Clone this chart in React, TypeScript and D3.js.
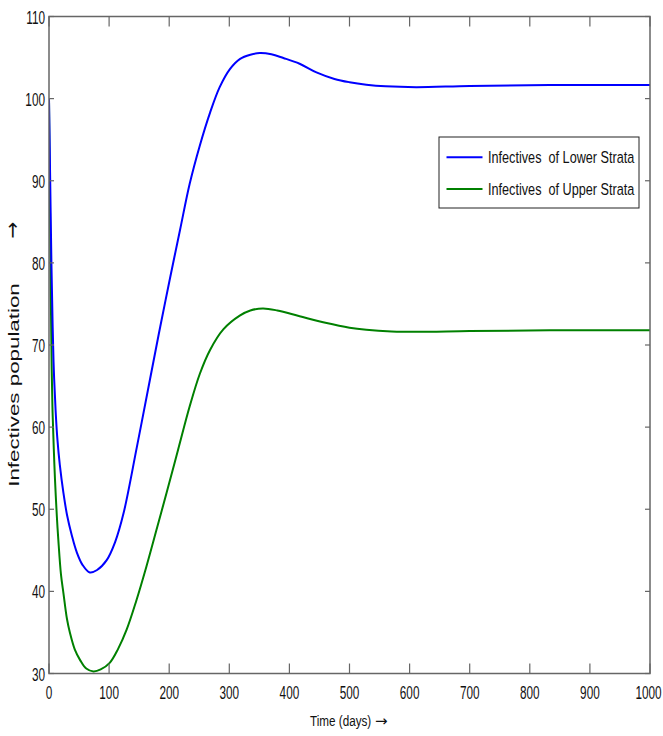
import React from "react";
import * as d3 from "d3";

const W = 663;
const H = 736;

const lowerT = [0, 2, 4, 6, 8, 11, 14, 18, 24, 30, 38, 46, 56, 68, 80, 96, 110, 124, 146, 168, 185, 201, 218, 234, 251, 268, 284, 301, 318, 335, 351, 370, 390, 417, 445, 475, 500, 528, 560, 611, 700, 833, 1000];
const lowerV = [100, 90, 80, 72.5, 67, 62, 58.5, 55.4, 52, 49.3, 46.8, 44.8, 43.2, 42.3, 42.6, 43.8, 46.0, 49.5, 57.5, 65.8, 72.2, 78.0, 84.0, 89.6, 94.3, 98.3, 101.4, 103.6, 104.85, 105.35, 105.55, 105.4, 104.95, 104.25, 103.2, 102.4, 102.0, 101.7, 101.5, 101.4, 101.55, 101.65, 101.65];

const upperT = [0, 1.5, 3, 4.5, 6, 8, 10, 13, 15.5, 20, 24, 30, 35, 43, 52, 62, 74, 86, 101, 115, 129, 145, 162, 180, 196, 215, 234, 251, 268, 290, 318, 335, 356, 380, 417, 460, 500, 528, 570, 611, 700, 833, 1000];
const upperV = [100, 88, 76, 67, 61.7, 57.3, 53.6, 49.2, 46.3, 42, 39.8, 36.6, 34.9, 32.9, 31.6, 30.6, 30.25, 30.5, 31.3, 33, 35.3, 38.8, 43, 47.8, 52.1, 57.3, 62.5, 66.5, 69.4, 71.9, 73.6, 74.2, 74.45, 74.2, 73.5, 72.7, 72.1, 71.85, 71.65, 71.6, 71.7, 71.8, 71.8];

const xTicks = [0, 100, 200, 300, 400, 500, 600, 700, 800, 900, 1000];
const yTicks = [30, 40, 50, 60, 70, 80, 90, 100, 110];

const seriesNames = ["Infectives  of Lower Strata", "Infectives  of Upper Strata"];
const seriesColors = ["#0000ff", "#008000"];

const FONT = "'Liberation Sans', Arial, sans-serif";

export default function App() {
  const x = d3.scaleLinear().domain([0, 1000]).range([49, 650]);
  const y = d3.scaleLinear().domain([30, 110]).range([673.5, 16.5]);
  const [x0, x1] = x.range();
  const [y0, y1] = y.range();

  const line = d3
    .line<[number, number]>()
    .x((d) => x(d[0]))
    .y((d) => y(d[1]))
    .curve(d3.curveCatmullRom.alpha(0.5));

  const lower = lowerT.map((t, i) => [t, lowerV[i]] as [number, number]);
  const upper = upperT.map((t, i) => [t, upperV[i]] as [number, number]);

  const axisColor = "#666";
  const tickSX = 0.62;

  return (
    <svg
      width={W}
      height={H}
      style={{ position: "absolute", left: 0, top: 0, background: "#fff" }}
      fontFamily={FONT}
    >
      <defs>
        <clipPath id="plotclip">
          <rect x={x0} y={y1} width={x1 - x0} height={y0 - y1} />
        </clipPath>
      </defs>
      <rect x={0} y={0} width={W} height={H} fill="#fff" />

      {/* curves */}
      <g clipPath="url(#plotclip)">
        <path d={line(upper) || ""} fill="none" stroke={seriesColors[1]} strokeWidth={2} />
        <path d={line(lower) || ""} fill="none" stroke={seriesColors[0]} strokeWidth={2} />
      </g>

      {/* box */}
      <rect x={x0} y={y1} width={x1 - x0} height={y0 - y1} fill="none" stroke={axisColor} strokeWidth={1.5} />

      {/* x ticks */}
      {xTicks.map((t) => (
        <g key={"xt" + t}>
          <line x1={x(t)} x2={x(t)} y1={y0} y2={y0 - 10} stroke={axisColor} strokeWidth={1.2} />
          <line x1={x(t)} x2={x(t)} y1={y1} y2={y1 + 10} stroke={axisColor} strokeWidth={1.2} />
          <text
            transform={`translate(${t === 1000 ? x(t) - 1.5 : x(t)},699) scale(${tickSX},1)`}
            fontSize={19}
            textAnchor="middle"
            fill="#111"
          >
            {t}
          </text>
        </g>
      ))}

      {/* y ticks */}
      {yTicks.map((v) => (
        <g key={"yt" + v}>
          <line x1={x0} x2={x0 + 5} y1={y(v)} y2={y(v)} stroke={axisColor} strokeWidth={1.2} />
          <line x1={x1} x2={x1 - 5} y1={y(v)} y2={y(v)} stroke={axisColor} strokeWidth={1.2} />
          <text
            transform={`translate(45,${y(v) + 7}) scale(${tickSX},1)`}
            fontSize={19}
            textAnchor="end"
            fill="#111"
          >
            {v}
          </text>
        </g>
      ))}

      {/* x title */}
      <text transform="translate(310,725.5) scale(0.78,1)" fontSize={15} fill="#111">
        Time (days)
      </text>
      <text x={375} y={725.5} fontSize={15} fill="#111" fontFamily="'DejaVu Sans', sans-serif">
        →
      </text>

      {/* y title */}
      <text
        transform="translate(19,385) rotate(-90) scale(1.49,1)"
        fontSize={15}
        textAnchor="middle"
        fill="#111"
      >
        Infectives population
      </text>
      <text
        transform="translate(19,230) rotate(-90)"
        fontSize={20}
        textAnchor="middle"
        fill="#111"
        fontFamily="'DejaVu Sans', sans-serif"
      >
        →
      </text>

      {/* legend */}
      <g>
        <rect x={439} y={137} width={200} height={71} fill="#fff" stroke="#222" strokeWidth={1} />
        {seriesNames.map((name, i) => {
          const ly = 157.3 + i * 31.7;
          return (
            <g key={name}>
              <line x1={446.5} x2={482.5} y1={ly} y2={ly} stroke={seriesColors[i]} strokeWidth={2} />
              <text
                transform={`translate(488,${ly + 6}) scale(0.745,1)`}
                fontSize={17}
                fill="#111"
                style={{ whiteSpace: "pre" }}
              >
                {name}
              </text>
            </g>
          );
        })}
      </g>
    </svg>
  );
}
